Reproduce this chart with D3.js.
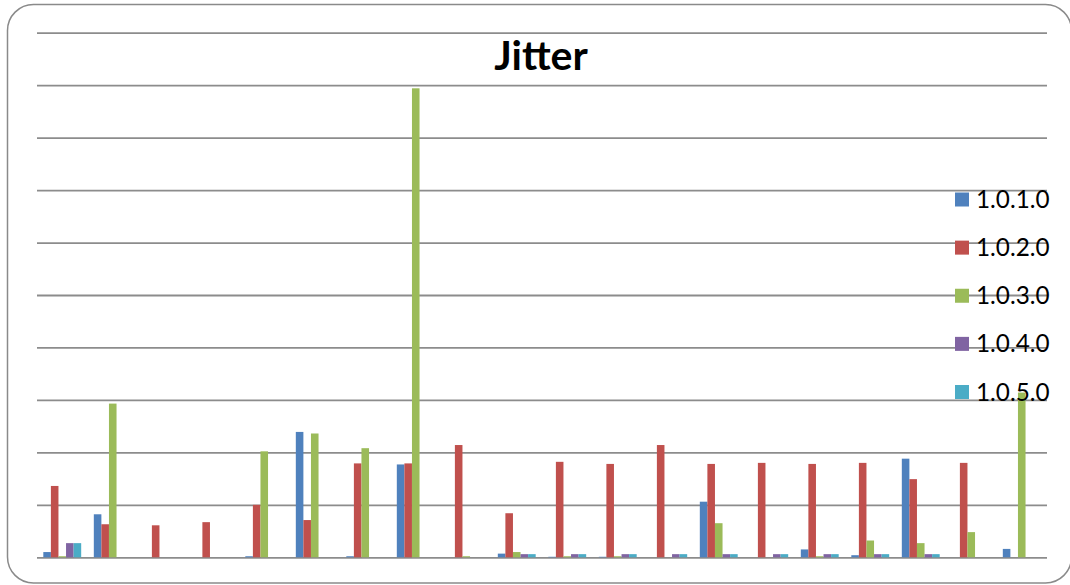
<!DOCTYPE html>
<html>
<head>
<meta charset="utf-8">
<script src="https://cdn.jsdelivr.net/npm/d3@7"></script>
<style>
  html, body { margin: 0; padding: 0; background: #fff; }
  svg { display: block; }
</style>
</head>
<body>
<svg id="chart" width="1070" height="585"></svg>
<script>
const categories = ["1","2","3","4","5","6","7","8","9","10","11","12","13","14","15","16","17","18","19","20"];
const seriesNames = ["1.0.1.0","1.0.2.0","1.0.3.0","1.0.4.0","1.0.5.0"];
const s1 = [0.10, 0.82, 0, 0, 0.02, 2.39, 0.02, 1.77, 0, 0.07, 0.01, 0.01, 0, 1.06, 0, 0.15, 0.04, 1.88, 0, 0.16];
const s2 = [1.36, 0.63, 0.61, 0.67, 1.00, 0.71, 1.79, 1.79, 2.14, 0.84, 1.82, 1.78, 2.14, 1.78, 1.80, 1.78, 1.80, 1.49, 1.80, 0];
const s3 = [0.02, 2.93, 0, 0, 2.02, 2.36, 2.08, 8.94, 0.02, 0.10, 0.02, 0.02, 0, 0.65, 0, 0.02, 0.32, 0.27, 0.48, 3.14];
const s4 = [0.27, 0, 0, 0, 0, 0, 0, 0, 0, 0.06, 0.06, 0.06, 0.06, 0.06, 0.06, 0.06, 0.06, 0.06, 0, 0];
const s5 = [0.27, 0, 0, 0, 0, 0, 0, 0, 0, 0.06, 0.06, 0.06, 0.06, 0.06, 0.06, 0.06, 0.06, 0.06, 0, 0];
const yTicks = [0,1,2,3,4,5,6,7,8,9,10];
const colors = ["#4F81BD","#C0504D","#9BBB59","#8064A2","#4BACC6"];
const seriesValues = [s1, s2, s3, s4, s5];

const svg = d3.select("#chart");

// outer rounded border
svg.append("rect")
  .attr("x", 7.5).attr("y", 4.5)
  .attr("width", 1064).attr("height", 578.5)
  .attr("rx", 26).attr("ry", 26)
  .attr("fill", "#fff")
  .attr("stroke", "#8a8a8a").attr("stroke-width", 1.5);

const plotLeft = 37, plotRight = 1047, plotTop = 32.7, plotBottom = 557.3;

const x0 = d3.scaleBand().domain(categories).range([plotLeft, plotRight])
  .paddingInner(0.25).paddingOuter(0.125);
const x1 = d3.scaleBand().domain(seriesNames).range([0, x0.bandwidth()]);
const y = d3.scaleLinear().domain([0, 10]).range([plotBottom, plotTop]);

// gridlines
const grid = svg.append("g")
  .attr("transform", `translate(${plotLeft},0)`)
  .call(d3.axisLeft(y).tickValues(yTicks).tickSize(-(plotRight - plotLeft)).tickFormat(""));
grid.select(".domain").remove();
grid.selectAll(".tick line").attr("stroke", "#8c8c8c").attr("stroke-width", 1.8);

// bars
const groups = svg.append("g").selectAll("g")
  .data(categories)
  .join("g")
  .attr("transform", d => `translate(${x0(d)},0)`);

groups.selectAll("rect")
  .data((d, i) => seriesNames.map((s, k) => ({ s, k, v: seriesValues[k][i] })))
  .join("rect")
  .attr("x", d => x1(d.s))
  .attr("width", x1.bandwidth())
  .attr("y", d => y(d.v))
  .attr("height", d => y(0) - y(d.v))
  .attr("fill", d => colors[d.k]);

// title
svg.append("text")
  .attr("x", 541).attr("y", 70)
  .attr("text-anchor", "middle")
  .attr("font-family", "Lato, 'Liberation Sans', sans-serif")
  .attr("font-weight", "bold")
  .attr("font-size", 41)
  .attr("fill", "#000")
  .text("Jitter");

// legend
const legendY = d3.scalePoint().domain(seriesNames).range([199.5, 392]);
const lg = svg.append("g").selectAll("g")
  .data(seriesNames)
  .join("g")
  .attr("transform", d => `translate(955,${legendY(d)})`);
lg.append("rect")
  .attr("x", 0).attr("y", -7).attr("width", 14).attr("height", 14)
  .attr("fill", (d, i) => colors[i]);
lg.append("text")
  .attr("x", 21).attr("y", 8.5)
  .attr("font-family", "Lato, 'Liberation Sans', sans-serif")
  .attr("font-size", 24.3)
  .attr("fill", "#000")
  .text(d => d);
</script>
</body>
</html>
